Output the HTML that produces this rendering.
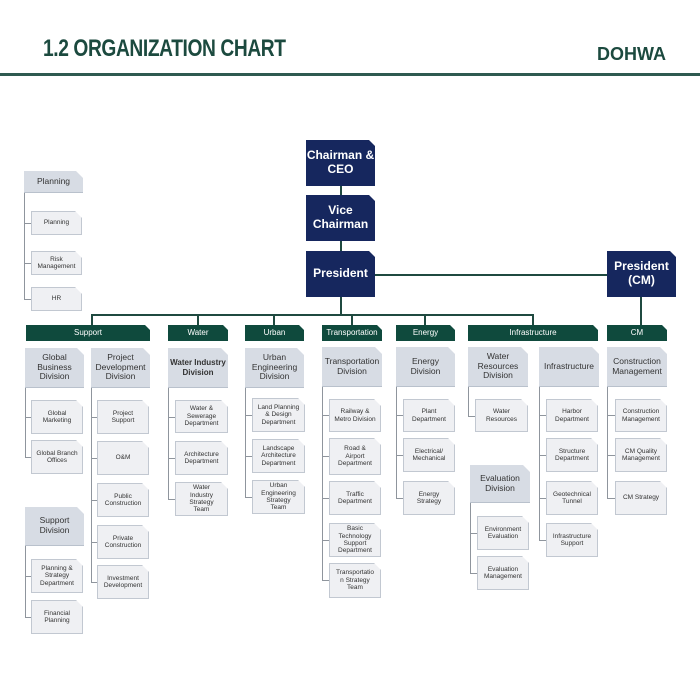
<!DOCTYPE html>
<html><head><meta charset="utf-8"><style>
body{margin:0;width:700px;height:700px;background:#fff;position:relative;overflow:hidden;font-family:"Liberation Sans",sans-serif;}
div{position:absolute;box-sizing:border-box;}
.t{display:flex;align-items:center;justify-content:center;text-align:center;line-height:1.15;}
.n{background:#16275e;color:#fff;font-weight:bold;font-size:12px;clip-path:polygon(0 0,calc(100% - 6px) 0,100% 6px,100% 100%,0 100%);}
.h{background:#0f4a3d;color:#fff;font-size:8px;clip-path:polygon(0 0,calc(100% - 5px) 0,100% 5px,100% 100%,0 100%);}
.d{background:#d7dce4;color:#333;font-size:8.5px;clip-path:polygon(0 0,calc(100% - 7px) 0,100% 7px,100% 100%,0 100%);border-bottom:1px solid #b9c1cc;}
.c{background:#eff0f3;color:#333;font-size:6.5px;border:1px solid #c2c8d1;clip-path:polygon(0 0,calc(100% - 7px) 0,100% 7px,100% 100%,0 100%);}
.v{background:#8f959d;width:1px;}
.k{background:#8f959d;height:1px;}
.g{background:#1f4a40;}
</style></head><body>
<div style="left:43px;top:35px;font-size:24px;font-weight:bold;color:#1c4a3f;letter-spacing:-0.5px;transform:scaleX(0.8);transform-origin:0 0;white-space:nowrap">1.2 ORGANIZATION CHART</div>
<div style="left:597px;top:44px;font-size:18px;font-weight:bold;color:#1c4a3f">DOHWA</div>
<div style="left:0;top:73px;width:700px;height:3px;background:#2f5a50"></div>

<div class="g" style="left:340px;top:186px;width:2px;height:130px"></div>
<div class="g" style="left:375px;top:274px;width:232px;height:2px"></div>
<div class="g" style="left:640px;top:297px;width:2px;height:28px"></div>
<div class="g" style="left:91px;top:314px;width:443px;height:2px"></div>
<div class="g" style="left:91px;top:314px;width:2px;height:11px"></div>
<div class="g" style="left:197px;top:314px;width:2px;height:11px"></div>
<div class="g" style="left:273px;top:314px;width:2px;height:11px"></div>
<div class="g" style="left:351px;top:314px;width:2px;height:11px"></div>
<div class="g" style="left:424px;top:314px;width:2px;height:11px"></div>
<div class="g" style="left:532px;top:314px;width:2px;height:11px"></div>

<div class="n t" style="left:306px;top:140px;width:69px;height:46px">Chairman &amp;<br>CEO</div>
<div class="n t" style="left:306px;top:195px;width:69px;height:46px">Vice<br>Chairman</div>
<div class="n t" style="left:306px;top:251px;width:69px;height:46px">President</div>
<div class="n t" style="left:607px;top:251px;width:69px;height:46px">President<br>(CM)</div>

<div class="h t" style="left:26px;top:325px;width:124px;height:16px">Support</div>
<div class="h t" style="left:168px;top:325px;width:60px;height:16px">Water</div>
<div class="h t" style="left:245px;top:325px;width:59px;height:16px">Urban</div>
<div class="h t" style="left:322px;top:325px;width:60px;height:16px">Transportation</div>
<div class="h t" style="left:396px;top:325px;width:59px;height:16px">Energy</div>
<div class="h t" style="left:468px;top:325px;width:130px;height:16px">Infrastructure</div>
<div class="h t" style="left:607px;top:325px;width:60px;height:16px">CM</div>

<div class="v" style="left:24px;top:193px;height:106px"></div>
<div class="k" style="left:24px;top:223px;width:7px"></div>
<div class="k" style="left:24px;top:263px;width:7px"></div>
<div class="k" style="left:24px;top:299px;width:7px"></div>
<div class="d t" style="left:24px;top:171px;width:59px;height:22px">Planning</div>
<div class="c t" style="left:31px;top:211px;width:51px;height:24px">Planning</div>
<div class="c t" style="left:31px;top:251px;width:51px;height:24px">Risk<br>Management</div>
<div class="c t" style="left:31px;top:287px;width:51px;height:24px">HR</div>

<div class="v" style="left:25px;top:388px;height:69px"></div>
<div class="k" style="left:25px;top:417px;width:6px"></div>
<div class="k" style="left:25px;top:457px;width:6px"></div>
<div class="d t" style="left:25px;top:348px;width:59px;height:40px">Global<br>Business<br>Division</div>
<div class="c t" style="left:31px;top:400px;width:52px;height:34px">Global<br>Marketing</div>
<div class="c t" style="left:31px;top:440px;width:52px;height:34px">Global Branch<br>Offices</div>

<div class="v" style="left:91px;top:388px;height:194px"></div>
<div class="k" style="left:91px;top:417px;width:6px"></div>
<div class="k" style="left:91px;top:458px;width:6px"></div>
<div class="k" style="left:91px;top:500px;width:6px"></div>
<div class="k" style="left:91px;top:542px;width:6px"></div>
<div class="k" style="left:91px;top:582px;width:6px"></div>
<div class="d t" style="left:91px;top:348px;width:59px;height:40px">Project<br>Development<br>Division</div>
<div class="c t" style="left:97px;top:400px;width:52px;height:34px">Project<br>Support</div>
<div class="c t" style="left:97px;top:441px;width:52px;height:34px">O&amp;M</div>
<div class="c t" style="left:97px;top:483px;width:52px;height:34px">Public<br>Construction</div>
<div class="c t" style="left:97px;top:525px;width:52px;height:34px">Private<br>Construction</div>
<div class="c t" style="left:97px;top:565px;width:52px;height:34px">Investment<br>Development</div>

<div class="v" style="left:25px;top:546px;height:71px"></div>
<div class="k" style="left:25px;top:576px;width:6px"></div>
<div class="k" style="left:25px;top:617px;width:6px"></div>
<div class="d t" style="left:25px;top:507px;width:59px;height:39px">Support<br>Division</div>
<div class="c t" style="left:31px;top:559px;width:52px;height:34px">Planning &amp;<br>Strategy<br>Department</div>
<div class="c t" style="left:31px;top:600px;width:52px;height:34px">Financial<br>Planning</div>

<div class="v" style="left:168px;top:388px;height:111px"></div>
<div class="k" style="left:168px;top:417px;width:7px"></div>
<div class="k" style="left:168px;top:458px;width:7px"></div>
<div class="k" style="left:168px;top:499px;width:7px"></div>
<div class="d t" style="left:168px;top:348px;width:60px;height:40px;font-weight:bold;font-size:8px">Water Industry<br>Division</div>
<div class="c t" style="left:175px;top:400px;width:53px;height:33px">Water &amp;<br>Sewerage<br>Department</div>
<div class="c t" style="left:175px;top:441px;width:53px;height:34px">Architecture<br>Department</div>
<div class="c t" style="left:175px;top:482px;width:53px;height:34px">Water<br>Industry<br>Strategy<br>Team</div>

<div class="v" style="left:245px;top:388px;height:109px"></div>
<div class="k" style="left:245px;top:415px;width:7px"></div>
<div class="k" style="left:245px;top:456px;width:7px"></div>
<div class="k" style="left:245px;top:497px;width:7px"></div>
<div class="d t" style="left:245px;top:348px;width:59px;height:40px">Urban<br>Engineering<br>Division</div>
<div class="c t" style="left:252px;top:398px;width:53px;height:34px">Land Planning<br>&amp; Design<br>Department</div>
<div class="c t" style="left:252px;top:439px;width:53px;height:34px">Landscape<br>Architecture<br>Department</div>
<div class="c t" style="left:252px;top:480px;width:53px;height:34px">Urban<br>Engineering<br>Strategy<br>Team</div>

<div class="v" style="left:322px;top:387px;height:194px"></div>
<div class="k" style="left:322px;top:415px;width:7px"></div>
<div class="k" style="left:322px;top:456px;width:7px"></div>
<div class="k" style="left:322px;top:498px;width:7px"></div>
<div class="k" style="left:322px;top:540px;width:7px"></div>
<div class="k" style="left:322px;top:580px;width:7px"></div>
<div class="d t" style="left:322px;top:347px;width:60px;height:40px">Transportation<br>Division</div>
<div class="c t" style="left:329px;top:399px;width:52px;height:33px">Railway &amp;<br>Metro Division</div>
<div class="c t" style="left:329px;top:438px;width:52px;height:37px">Road &amp;<br>Airport<br>Department</div>
<div class="c t" style="left:329px;top:481px;width:52px;height:34px">Traffic<br>Department</div>
<div class="c t" style="left:329px;top:523px;width:52px;height:34px">Basic<br>Technology<br>Support<br>Department</div>
<div class="c t" style="left:329px;top:563px;width:52px;height:35px">Transportatio<br>n Strategy<br>Team</div>

<div class="v" style="left:396px;top:387px;height:111px"></div>
<div class="k" style="left:396px;top:415px;width:7px"></div>
<div class="k" style="left:396px;top:455px;width:7px"></div>
<div class="k" style="left:396px;top:498px;width:7px"></div>
<div class="d t" style="left:396px;top:347px;width:59px;height:40px">Energy<br>Division</div>
<div class="c t" style="left:403px;top:399px;width:52px;height:33px">Plant<br>Department</div>
<div class="c t" style="left:403px;top:438px;width:52px;height:34px">Electrical/<br>Mechanical</div>
<div class="c t" style="left:403px;top:481px;width:52px;height:34px">Energy<br>Strategy</div>

<div class="v" style="left:468px;top:387px;height:29px"></div>
<div class="k" style="left:468px;top:416px;width:7px"></div>
<div class="d t" style="left:468px;top:347px;width:60px;height:40px">Water<br>Resources<br>Division</div>
<div class="c t" style="left:475px;top:399px;width:53px;height:33px">Water<br>Resources</div>

<div class="v" style="left:470px;top:503px;height:70px"></div>
<div class="k" style="left:470px;top:533px;width:7px"></div>
<div class="k" style="left:470px;top:573px;width:7px"></div>
<div class="d t" style="left:470px;top:465px;width:60px;height:38px">Evaluation<br>Division</div>
<div class="c t" style="left:477px;top:516px;width:52px;height:34px">Environment<br>Evaluation</div>
<div class="c t" style="left:477px;top:556px;width:52px;height:34px">Evaluation<br>Management</div>

<div class="v" style="left:539px;top:387px;height:153px"></div>
<div class="k" style="left:539px;top:415px;width:7px"></div>
<div class="k" style="left:539px;top:455px;width:7px"></div>
<div class="k" style="left:539px;top:498px;width:7px"></div>
<div class="k" style="left:539px;top:540px;width:7px"></div>
<div class="d t" style="left:539px;top:347px;width:60px;height:40px">Infrastructure</div>
<div class="c t" style="left:546px;top:399px;width:52px;height:33px">Harbor<br>Department</div>
<div class="c t" style="left:546px;top:438px;width:52px;height:34px">Structure<br>Department</div>
<div class="c t" style="left:546px;top:481px;width:52px;height:34px">Geotechnical<br>Tunnel</div>
<div class="c t" style="left:546px;top:523px;width:52px;height:34px">Infrastructure<br>Support</div>

<div class="v" style="left:607px;top:387px;height:111px"></div>
<div class="k" style="left:607px;top:415px;width:8px"></div>
<div class="k" style="left:607px;top:455px;width:8px"></div>
<div class="k" style="left:607px;top:498px;width:8px"></div>
<div class="d t" style="left:607px;top:347px;width:60px;height:40px">Construction<br>Management</div>
<div class="c t" style="left:615px;top:399px;width:52px;height:33px">Construction<br>Management</div>
<div class="c t" style="left:615px;top:438px;width:52px;height:34px">CM Quality<br>Management</div>
<div class="c t" style="left:615px;top:481px;width:52px;height:34px">CM Strategy</div>
</body></html>
